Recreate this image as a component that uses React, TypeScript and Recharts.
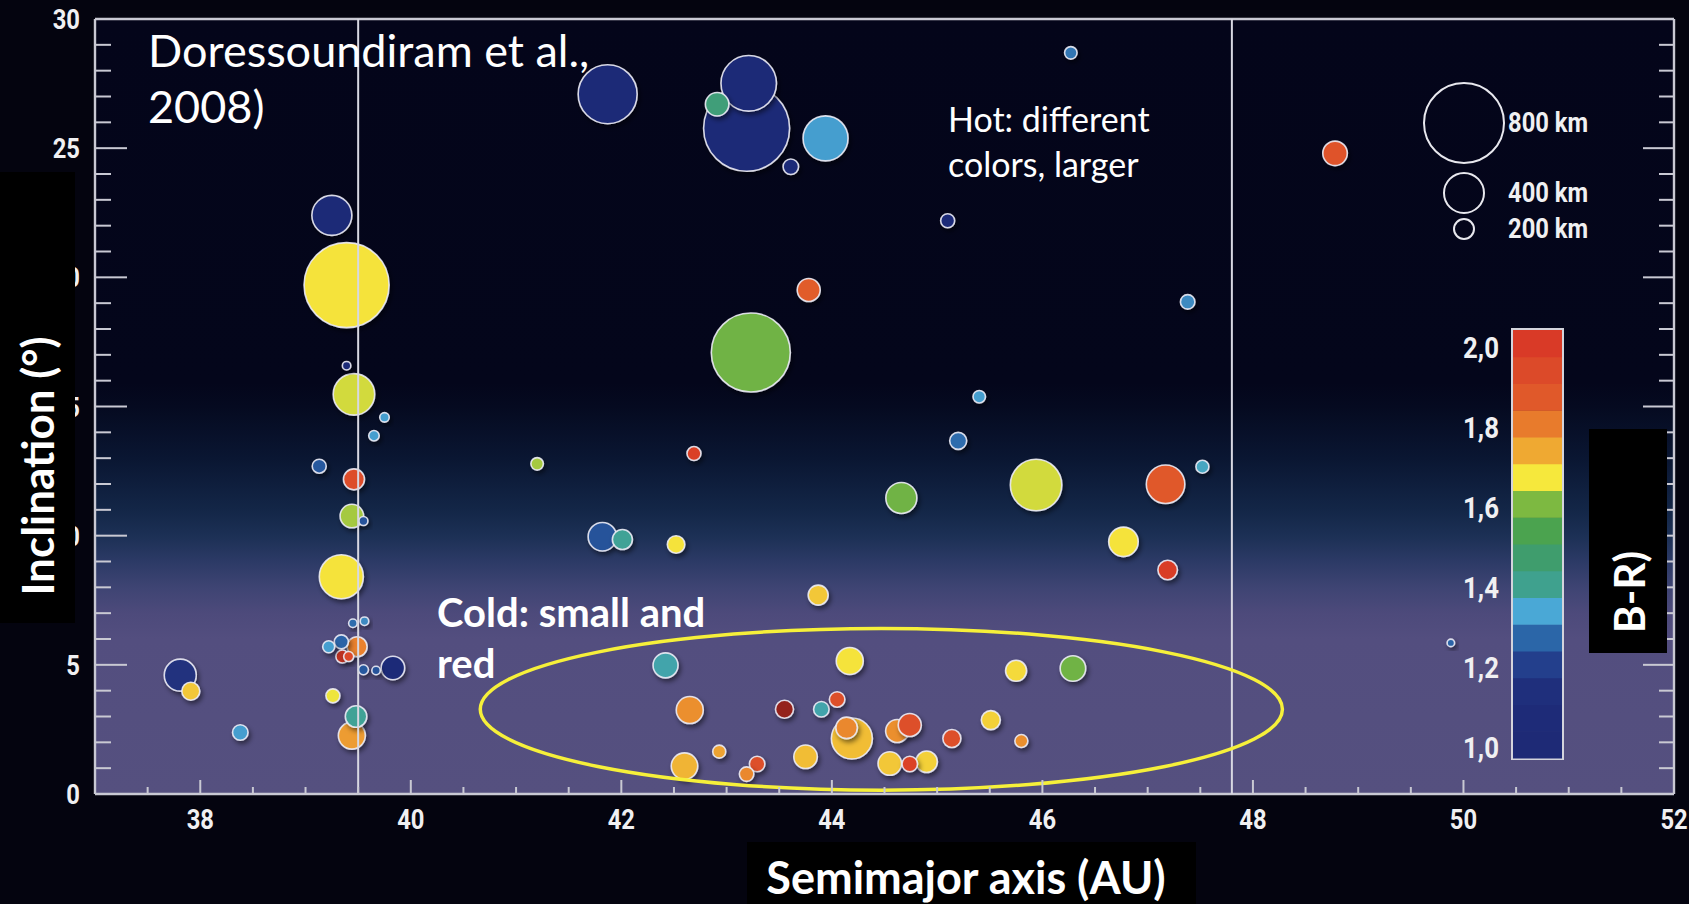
import React from 'react';
import {
  ScatterChart,
  Scatter,
  XAxis,
  YAxis,
  CartesianGrid,
  ReferenceLine,
  ReferenceArea,
} from 'recharts';

// Kuiper belt objects: semimajor axis (AU), inclination (deg), diameter (km), B-R colour
const SEMIMAJOR = [
  39.25, 39.39, 39.39, 39.46, 39.75, 39.65, 39.13, 39.46, 39.44, 39.55, 39.34, 41.2,
  39.45, 39.56, 39.22, 39.34, 39.49, 39.35, 39.41, 39.55, 39.67, 39.83, 37.81, 37.91,
  38.38, 39.26, 39.48, 39.44, 41.87, 43.21, 42.91, 43.19, 43.94, 43.61, 45.1, 46.27,
  43.78, 48.78, 43.23, 42.69, 45.4, 45.2, 44.66, 45.94, 41.82, 42.01, 42.52, 43.87,
  47.38, 47.52, 47.17, 46.77, 47.19, 42.42, 44.17, 45.75, 46.29, 42.65, 43.55, 43.9,
  44.05, 44.14, 44.19, 44.62, 44.74, 45.14, 45.51, 45.8, 42.6, 42.93, 43.29, 43.19,
  43.75, 44.55, 44.74, 44.9, 49.88,
];
const INCLINATION = [
  22.4, 19.7, 16.58, 15.47, 14.58, 13.87, 12.69, 12.18, 10.76, 10.57, 8.41, 12.78,
  6.61, 6.69, 5.7, 5.89, 5.7, 5.32, 5.32, 4.81, 4.78, 4.88, 4.6, 3.98,
  2.38, 3.8, 3.0, 2.26, 27.09, 27.51, 26.7, 25.77, 25.38, 24.28, 22.19, 28.69,
  19.51, 24.8, 17.09, 13.18, 15.38, 13.67, 11.46, 11.96, 9.96, 9.85, 9.66, 7.7,
  19.05, 12.67, 11.99, 9.76, 8.67, 4.98, 5.15, 4.77, 4.86, 3.25, 3.28, 3.28,
  3.66, 2.56, 2.15, 2.44, 2.67, 2.15, 2.86, 2.05, 1.08, 1.64, 1.16, 0.77,
  1.44, 1.18, 1.16, 1.25, 5.85,
];
const DIAMETER_KM = [
  400, 850, 85, 415, 95, 105, 140, 210, 235, 90, 440, 125,
  85, 85, 120, 140, 200, 130, 100, 100, 85, 235, 320, 180,
  155, 140, 215, 270, 590, 555, 235, 860, 450, 155, 140, 125,
  230, 245, 790, 140, 125, 170, 310, 515, 285, 200, 175, 200,
  145, 130, 385, 295, 195, 250, 270, 210, 255, 270, 180, 155,
  155, 215, 410, 230, 230, 180, 190, 130, 265, 130, 155, 145,
  235, 235, 155, 215, 75,
];
const B_R = [
  1.05, 1.68, 1.05, 1.655, 1.33, 1.33, 1.25, 1.93, 1.63, 1.24, 1.68, 1.63,
  1.28, 1.31, 1.33, 1.27, 1.8, 2.03, 1.95, 1.25, 1.24, 1.07, 1.15, 1.71,
  1.33, 1.67, 1.4, 1.76, 1.05, 1.05, 1.45, 1.05, 1.33, 1.08, 1.08, 1.29,
  1.87, 1.9, 1.59, 1.98, 1.33, 1.28, 1.59, 1.655, 1.24, 1.4, 1.68, 1.71,
  1.31, 1.36, 1.88, 1.68, 2.0, 1.38, 1.68, 1.69, 1.59, 1.78, 2.06, 1.38,
  1.92, 1.79, 1.72, 1.78, 1.92, 1.92, 1.7, 1.78, 1.73, 1.75, 1.92, 1.79,
  1.72, 1.71, 1.97, 1.7, 1.27,
];

const X_TICKS = [
  37, 37.5, 38, 38.5, 39, 39.5, 40, 40.5, 41, 41.5, 42, 42.5, 43, 43.5, 44, 44.5,
  45, 45.5, 46, 46.5, 47, 47.5, 48, 48.5, 49, 49.5, 50, 50.5, 51, 51.5, 52,
];
const X_LABELS = [38, 40, 42, 44, 46, 48, 50, 52];
const Y_TICKS = [
  0, 1, 2, 3, 4, 5, 6, 7, 8, 9, 10, 11, 12, 13, 14, 15,
  16, 17, 18, 19, 20, 21, 22, 23, 24, 25, 26, 27, 28, 29, 30,
];
const Y_LABELS = [0, 5, 10, 15, 20, 25, 30];

// Neptune resonances (3:2 and 2:1)
const RESONANCES = [39.5, 47.8];
// Cold classical region, outlined
const COLD_A = [40.66, 48.28];
const COLD_I = [0.15, 6.41];

const LEGEND_KM = [800, 400, 200];
const CBAR_TICKS = [2.0, 1.8, 1.6, 1.4, 1.2, 1.0];
// colour bar bands, bottom (blue) to top (red)
const CBAR_COLORS = [
  '#1e2a76', '#1e2b78', '#1f2f7c', '#233f8c', '#2b66a8', '#4aa8d6', '#3fa18e', '#3f9d6d',
  '#4ba34f', '#7db941', '#f6e83c', '#efa932', '#e87b2c', '#e0592a', '#dc4a29', '#d93a27',
];

const WIDTH = 1689;
const HEIGHT = 904;
const PLOT = { left: 95, right: 1674, top: 19, bottom: 794 };
const AXIS_COLOR = '#c9c9d3';
const KM_TO_PX = 0.05;

const CB_MIN = 0.9725;
const CB_MAX = 2.0425;
const CB_BOX = { x: 1513, y: 330, w: 49, h: 428 };
const CB_STEP = (CB_MAX - CB_MIN) / CBAR_COLORS.length;

function hexToRgb(h: string) {
  return [1, 3, 5].map(i => parseInt(h.slice(i, i + 2), 16));
}

function mix(c1: string, c2: string, t: number) {
  const a = hexToRgb(c1);
  const b = hexToRgb(c2);
  const c = a.map((v, i) => Math.round(v + (b[i] - v) * t));
  return `rgb(${c[0]},${c[1]},${c[2]})`;
}

// B-R value -> colour, interpolated between band centres
function brColor(v: number) {
  const last = CBAR_COLORS.length - 1;
  const topCenter = CB_MIN + (last + 0.5) * CB_STEP;
  if (v > topCenter) {
    return mix(CBAR_COLORS[last], '#7a1b1b', Math.min(1, (v - topCenter) / 0.07));
  }
  const pos = Math.max(0, (v - CB_MIN) / CB_STEP - 0.5);
  const k = Math.min(last - 1, Math.floor(pos));
  return mix(CBAR_COLORS[k], CBAR_COLORS[k + 1], Math.min(1, pos - k));
}

function cbY(v: number) {
  return CB_BOX.y + ((CB_MAX - v) / (CB_MAX - CB_MIN)) * CB_BOX.h;
}

const rows = SEMIMAJOR.map((a, i) => ({
  a,
  inc: INCLINATION[i],
  km: DIAMETER_KM[i],
  br: B_R[i],
})).sort((p, q) => q.km - p.km);

const textFont = "Lato, 'Open Sans', sans-serif";

// bold, horizontally squeezed numerals for the axes and legends
function CondText(props: {
  x: number;
  y: number;
  size: number;
  anchor?: 'start' | 'middle' | 'end';
  squeeze?: number;
  children: React.ReactNode;
}) {
  const { x, y, size, anchor = 'start', squeeze = 0.88, children } = props;
  return (
    <text
      transform={`translate(${x},${y}) scale(${squeeze},1)`}
      textAnchor={anchor}
      fill="#f0f0f2"
      style={{ fontFamily: 'Roboto, sans-serif', fontWeight: 700, fontSize: size }}
    >
      {children}
    </text>
  );
}

function renderBubble(props: any) {
  const { cx, cy, payload } = props;
  if (cx == null || cy == null) return <g />;
  return (
    <circle
      cx={cx}
      cy={cy}
      r={payload.km * KM_TO_PX}
      fill={brColor(payload.br)}
      stroke="rgba(236,236,246,0.9)"
      strokeWidth={1.6}
      filter="url(#bubbleShadow)"
    />
  );
}

function BottomTick(props: any) {
  const { x, y, payload } = props;
  const major = X_LABELS.includes(payload.value);
  return (
    <g>
      <line x1={x} x2={x} y1={y} y2={y - (major ? 14 : 7)} stroke={AXIS_COLOR} strokeWidth={2} />
      {major && (
        <CondText x={x} y={y + 35} size={27} anchor="middle">
          {payload.value}
        </CondText>
      )}
    </g>
  );
}

function TopTick(props: any) {
  const { x, y, payload } = props;
  const major = X_LABELS.includes(payload.value);
  return <line x1={x} x2={x} y1={y} y2={y + (major ? 14 : 7)} stroke={AXIS_COLOR} strokeWidth={2} />;
}

function LeftTick(props: any) {
  const { x, y, payload } = props;
  const major = Y_LABELS.includes(payload.value);
  return (
    <g>
      <line x1={x} x2={x + (major ? 32 : 16)} y1={y} y2={y} stroke={AXIS_COLOR} strokeWidth={2} />
      {major && (
        <CondText x={x - 15} y={y + 10} size={27} anchor="end">
          {payload.value}
        </CondText>
      )}
    </g>
  );
}

function RightTick(props: any) {
  const { x, y, payload } = props;
  const major = Y_LABELS.includes(payload.value);
  return <line x1={x} x2={x - (major ? 31 : 15)} y1={y} y2={y} stroke={AXIS_COLOR} strokeWidth={2} />;
}

function renderEllipse(p: any) {
  return (
    <ellipse
      cx={p.x + p.width / 2}
      cy={p.y + p.height / 2}
      rx={p.width / 2}
      ry={p.height / 2}
      fill="none"
      stroke="#f6f03a"
      strokeWidth={3.5}
    />
  );
}

function Overlay() {
  const legendCenters = [123, 193, 229];
  const white = '#ffffff';
  return (
    <svg
      width={WIDTH}
      height={HEIGHT}
      style={{ position: 'absolute', left: 0, top: 0, pointerEvents: 'none' }}
    >
      {/* size legend */}
      {LEGEND_KM.map((km, i) => (
        <g key={km}>
          <circle cx={1464} cy={legendCenters[i]} r={km * KM_TO_PX} fill="none" stroke="#e8e8ee" strokeWidth={2} />
          <CondText x={1508} y={legendCenters[i] + 9} size={27} squeeze={0.88}>
            {`${km} km`}
          </CondText>
        </g>
      ))}

      {/* B-R colour bar */}
      <rect x={CB_BOX.x - 1} y={CB_BOX.y - 1} width={CB_BOX.w + 2} height={CB_BOX.h + 2} fill="none" stroke="#d4d4dc" strokeWidth={2} />
      {CBAR_COLORS.map((c, k) => {
        const top = cbY(CB_MIN + (k + 1) * CB_STEP);
        const bottom = cbY(CB_MIN + k * CB_STEP);
        return <rect key={k} x={CB_BOX.x} y={top} width={CB_BOX.w} height={bottom - top + 0.5} fill={c} />;
      })}
      {CBAR_TICKS.map(v => (
        <CondText key={v} x={1499} y={cbY(v) + 11} size={30} anchor="end" squeeze={0.86}>
          {v.toFixed(1).replace('.', ',')}
        </CondText>
      ))}

      {/* label boxes */}
      <rect x={0} y={172} width={75} height={451} fill="#000" />
      <text
        transform="translate(54,466) rotate(-90)"
        textAnchor="middle"
        fill={white}
        style={{ fontFamily: textFont, fontWeight: 700, fontSize: 44 }}
      >
        Inclination (°)
      </text>
      <rect x={1589} y={429} width={78} height={224} fill="#000" />
      <text
        transform="translate(1645,592) rotate(-90)"
        textAnchor="middle"
        fill={white}
        style={{ fontFamily: textFont, fontWeight: 700, fontSize: 42 }}
      >
        B-R)
      </text>
      <rect x={747} y={842} width={449} height={62} fill="#000" />
      <text
        x={966}
        y={894}
        textAnchor="middle"
        fill={white}
        style={{ fontFamily: textFont, fontWeight: 700, fontSize: 45 }}
      >
        Semimajor axis (AU)
      </text>

      {/* annotations */}
      <text fill={white} style={{ fontFamily: textFont, fontSize: 45 }}>
        <tspan x={148} y={67}>Doressoundiram et al.,</tspan>
        <tspan x={148} y={123}>2008)</tspan>
      </text>
      <text fill={white} style={{ fontFamily: textFont, fontSize: 34 }}>
        <tspan x={948} y={132}>Hot: different</tspan>
        <tspan x={948} y={177}>colors, larger</tspan>
      </text>
      <text fill={white} style={{ fontFamily: textFont, fontWeight: 700, fontSize: 40 }}>
        <tspan x={437} y={627}>Cold: small and</tspan>
        <tspan x={437} y={678}>red</tspan>
      </text>
    </svg>
  );
}

export default function App() {
  return (
    <div style={styles.frame}>
      <svg width={0} height={0} style={{ position: 'absolute' }}>
        <defs>
          <linearGradient id="skyGradient" x1="0" y1="0" x2="0" y2="1">
            <stop offset="0" stopColor="#04051a" />
            <stop offset="0.47" stopColor="#04061b" />
            <stop offset="0.5" stopColor="#050a20" />
            <stop offset="0.567" stopColor="#0a1632" />
            <stop offset="0.633" stopColor="#132647" />
            <stop offset="0.667" stopColor="#1c3055" />
            <stop offset="0.7" stopColor="#2c3a66" />
            <stop offset="0.733" stopColor="#3e4473" />
            <stop offset="0.767" stopColor="#4d4a7b" />
            <stop offset="0.8" stopColor="#534e7f" />
            <stop offset="1" stopColor="#55507f" />
          </linearGradient>
          <filter id="bubbleShadow" x="-50%" y="-50%" width="200%" height="200%">
            <feDropShadow dx="2" dy="3" stdDeviation="2.5" floodColor="#000" floodOpacity="0.5" />
          </filter>
        </defs>
      </svg>

      <ScatterChart
        width={WIDTH}
        height={HEIGHT}
        margin={{ top: 0, right: 0, bottom: HEIGHT - PLOT.bottom - 40, left: 0 }}
      >
        <CartesianGrid horizontal={false} vertical={false} fill="url(#skyGradient)" />
        <XAxis
          type="number"
          dataKey="a"
          domain={[37, 52]}
          ticks={X_TICKS}
          interval={0}
          height={40}
          tickLine={false}
          tickSize={0}
          tickMargin={0}
          axisLine={{ stroke: AXIS_COLOR, strokeWidth: 2.4 }}
          tick={(p: any) => <BottomTick {...p} />}
          allowDataOverflow
        />
        <XAxis
          xAxisId="top"
          orientation="top"
          type="number"
          domain={[37, 52]}
          ticks={X_TICKS}
          interval={0}
          height={PLOT.top}
          tickLine={false}
          tickSize={0}
          tickMargin={0}
          axisLine={{ stroke: AXIS_COLOR, strokeWidth: 2.4 }}
          tick={(p: any) => <TopTick {...p} />}
          allowDataOverflow
        />
        <YAxis
          type="number"
          dataKey="inc"
          domain={[0, 30]}
          ticks={Y_TICKS}
          interval={0}
          width={PLOT.left}
          tickLine={false}
          tickSize={0}
          tickMargin={0}
          axisLine={{ stroke: AXIS_COLOR, strokeWidth: 2.4 }}
          tick={(p: any) => <LeftTick {...p} />}
          allowDataOverflow
        />
        <YAxis
          yAxisId="right"
          orientation="right"
          type="number"
          domain={[0, 30]}
          ticks={Y_TICKS}
          interval={0}
          width={WIDTH - PLOT.right}
          tickLine={false}
          tickSize={0}
          tickMargin={0}
          axisLine={{ stroke: AXIS_COLOR, strokeWidth: 2.4 }}
          tick={(p: any) => <RightTick {...p} />}
          allowDataOverflow
        />
        <Scatter data={rows} shape={renderBubble} isAnimationActive={false} />
        {RESONANCES.map(x => (
          <ReferenceLine key={x} x={x} stroke="#d8d8e2" strokeWidth={2} zIndex={700} />
        ))}
        <ReferenceArea
          x1={COLD_A[0]}
          x2={COLD_A[1]}
          y1={COLD_I[0]}
          y2={COLD_I[1]}
          shape={renderEllipse}
          ifOverflow="visible"
          zIndex={700}
        />
      </ScatterChart>

      <Overlay />
    </div>
  );
}

const styles: Record<string, React.CSSProperties> = {
  frame: {
    position: 'absolute',
    left: 0,
    top: 0,
    width: WIDTH,
    height: HEIGHT,
    backgroundColor: '#04040f',
    overflow: 'hidden',
  },
};
